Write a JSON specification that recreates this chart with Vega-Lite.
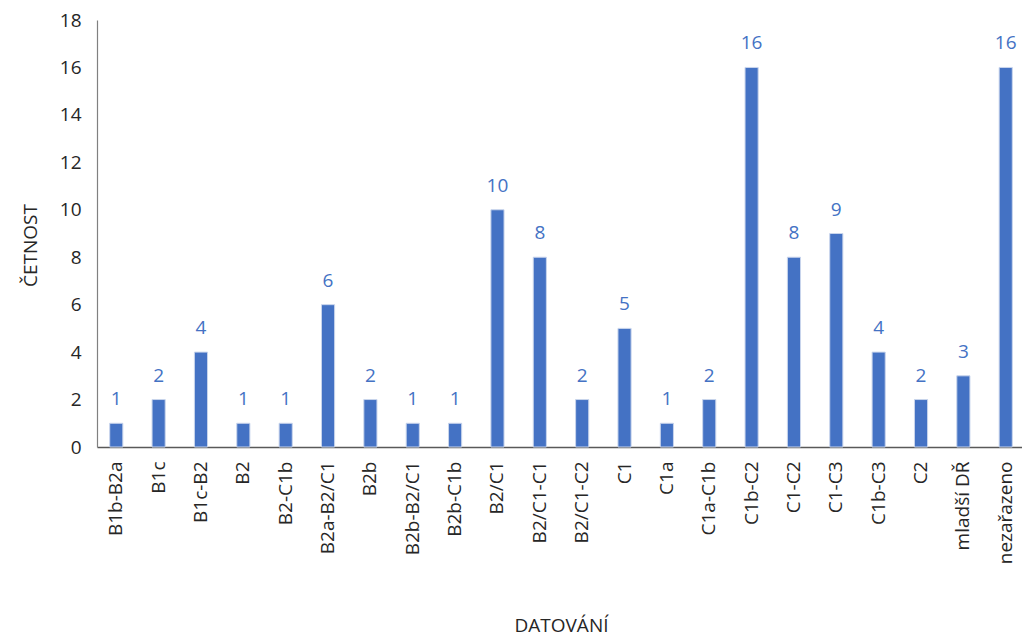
{
  "$schema": "https://vega.github.io/schema/vega-lite/v6.json",
  "width": 928,
  "height": 427,
  "autosize": {"type": "none"},
  "padding": {"left": 97, "top": 20, "right": 0, "bottom": 191},
  "background": "white",
  "config": {"view": {"stroke": null}, "font": "Open Sans"},
  "data": {"values": [
    {"datovani": "B1b-B2a", "cetnost": 1},
    {"datovani": "B1c", "cetnost": 2},
    {"datovani": "B1c-B2", "cetnost": 4},
    {"datovani": "B2", "cetnost": 1},
    {"datovani": "B2-C1b", "cetnost": 1},
    {"datovani": "B2a-B2/C1", "cetnost": 6},
    {"datovani": "B2b", "cetnost": 2},
    {"datovani": "B2b-B2/C1", "cetnost": 1},
    {"datovani": "B2b-C1b", "cetnost": 1},
    {"datovani": "B2/C1", "cetnost": 10},
    {"datovani": "B2/C1-C1", "cetnost": 8},
    {"datovani": "B2/C1-C2", "cetnost": 2},
    {"datovani": "C1", "cetnost": 5},
    {"datovani": "C1a", "cetnost": 1},
    {"datovani": "C1a-C1b", "cetnost": 2},
    {"datovani": "C1b-C2", "cetnost": 16},
    {"datovani": "C1-C2", "cetnost": 8},
    {"datovani": "C1-C3", "cetnost": 9},
    {"datovani": "C1b-C3", "cetnost": 4},
    {"datovani": "C2", "cetnost": 2},
    {"datovani": "mladší DŘ", "cetnost": 3},
    {"datovani": "nezařazeno", "cetnost": 16}
  ]},
  "encoding": {
    "x": {
      "field": "datovani", "type": "nominal", "sort": null,
      "scale": {"paddingInner": 0.69, "paddingOuter": 0.3},
      "axis": {
        "title": "DATOVÁNÍ", "labelAngle": -90, "labelAlign": "right", "labelBaseline": "middle",
        "labelFontSize": 19, "labelColor": "#262626", "labelPadding": 14,
        "ticks": false, "domainColor": "#595959", "domainWidth": 1.5,
        "titleFontSize": 19, "titleFontWeight": "normal", "titleColor": "#262626",
        "titleY": 178, "titleBaseline": "middle"
      }
    },
    "y": {
      "field": "cetnost", "type": "quantitative",
      "scale": {"domain": [0, 18], "nice": false},
      "axis": {
        "title": "ČETNOST", "values": [0,2,4,6,8,10,12,14,16,18], "grid": false, "ticks": false,
        "labelFontSize": 19, "labelColor": "#262626", "labelPadding": 16,
        "domainColor": "#808080", "domainWidth": 1.2,
        "titleFontSize": 19, "titleFontWeight": "normal", "titleColor": "#262626",
        "titleX": -67, "titleY": 225, "titleAngle": -90, "titleBaseline": "middle", "titleAlign": "center"
      }
    }
  },
  "layer": [
    {"mark": {"type": "bar", "color": "#4472C4", "stroke": "#C9D5EC", "strokeWidth": 1}},
    {"mark": {"type": "text", "baseline": "alphabetic", "dy": -18, "fontSize": 19, "color": "#4472C4"},
     "encoding": {"text": {"field": "cetnost", "type": "quantitative"}}}
  ]
}
